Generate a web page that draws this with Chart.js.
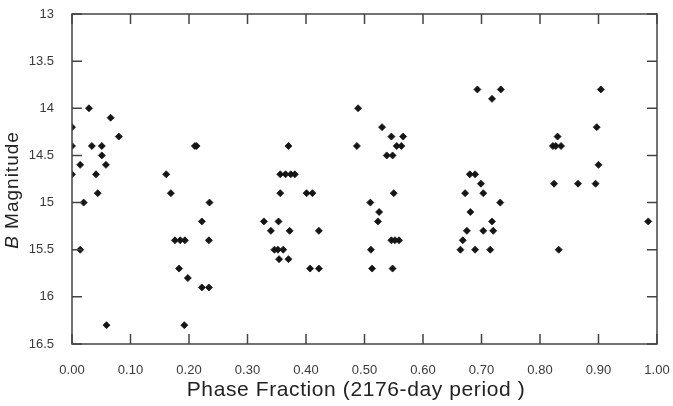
<!DOCTYPE html>
<html>
<head>
<meta charset="utf-8">
<script src="https://cdn.jsdelivr.net/npm/chart.js@4"></script>
<style>
  html, body { margin: 0; padding: 0; background: #fff; }
  #wrap { width: 673px; height: 406px; }
</style>
</head>
<body>
<div id="wrap"><canvas id="c" width="673" height="406"></canvas></div>
<script>
// phase fraction and B magnitude
const phase = [
  0.000, 0.000, 0.000, 0.029, 0.066, 0.080, 0.034, 0.051, 0.051, 0.014, 0.058, 0.041, 0.044, 0.020, 0.014, 0.059,
  0.161, 0.169, 0.210, 0.213, 0.235, 0.222, 0.176, 0.185, 0.193, 0.234, 0.183, 0.198, 0.222, 0.234, 0.192,
  0.370, 0.356, 0.365, 0.374, 0.381, 0.356, 0.401, 0.411, 0.328, 0.353, 0.340, 0.372, 0.422, 0.346, 0.352, 0.361, 0.354, 0.370, 0.407, 0.422,
  0.489, 0.487, 0.530, 0.546, 0.566, 0.555, 0.563, 0.538, 0.548, 0.550, 0.510, 0.525, 0.523, 0.546, 0.552, 0.559, 0.511, 0.513, 0.548,
  0.693, 0.718, 0.733, 0.680, 0.689, 0.699, 0.672, 0.703, 0.732, 0.681, 0.718, 0.675, 0.703, 0.720, 0.668, 0.664, 0.689, 0.715,
  0.904, 0.897, 0.830, 0.822, 0.827, 0.836, 0.900, 0.824, 0.865, 0.895, 0.832, 0.985
];
const bMag = [
  14.2, 14.4, 14.7, 14.0, 14.1, 14.3, 14.4, 14.4, 14.5, 14.6, 14.6, 14.7, 14.9, 15.0, 15.5, 16.3,
  14.7, 14.9, 14.4, 14.4, 15.0, 15.2, 15.4, 15.4, 15.4, 15.4, 15.7, 15.8, 15.9, 15.9, 16.3,
  14.4, 14.7, 14.7, 14.7, 14.7, 14.9, 14.9, 14.9, 15.2, 15.2, 15.3, 15.3, 15.3, 15.5, 15.5, 15.5, 15.6, 15.6, 15.7, 15.7,
  14.0, 14.4, 14.2, 14.3, 14.3, 14.4, 14.4, 14.5, 14.5, 14.9, 15.0, 15.1, 15.2, 15.4, 15.4, 15.4, 15.5, 15.7, 15.7,
  13.8, 13.9, 13.8, 14.7, 14.7, 14.8, 14.9, 14.9, 15.0, 15.1, 15.2, 15.3, 15.3, 15.3, 15.4, 15.5, 15.5, 15.5,
  13.8, 14.2, 14.3, 14.4, 14.4, 14.4, 14.6, 14.8, 14.8, 14.8, 15.5, 15.2
];
const xRange = [0, 1];
const yRange = [13, 16.5];
const xStep = 0.1;
const yStep = 0.5;
const xTitle = 'Phase Fraction (2176-day period )';
const yTitleItalic = 'B';
const yTitleRest = ' Magnitude';

const axisColor = '#444';
const labelColor = '#3a3a3a';
const tickFont = { family: 'Liberation Sans', size: 13 };

// frame with inward ticks on all four sides, plus the axis titles
const framePlugin = {
  id: 'frame',
  afterDatasetsDraw(chart) {
    const { ctx, chartArea: a, scales: { x, y } } = chart;
    const len = 10;
    ctx.save();
    ctx.strokeStyle = axisColor;
    ctx.lineWidth = 1.5;
    ctx.strokeRect(a.left, a.top, a.right - a.left, a.bottom - a.top);
    ctx.beginPath();
    x.ticks.forEach(t => {
      const px = x.getPixelForValue(t.value);
      ctx.moveTo(px, a.bottom); ctx.lineTo(px, a.bottom - len);
      ctx.moveTo(px, a.top); ctx.lineTo(px, a.top + len);
    });
    y.ticks.forEach(t => {
      const py = y.getPixelForValue(t.value);
      ctx.moveTo(a.left, py); ctx.lineTo(a.left + len, py);
      ctx.moveTo(a.right, py); ctx.lineTo(a.right - len, py);
    });
    ctx.stroke();

    ctx.fillStyle = '#222';
    ctx.textBaseline = 'middle';
    // x title
    ctx.font = '21px "Liberation Sans"';
    ctx.letterSpacing = '0.6px';
    ctx.textAlign = 'center';
    ctx.fillText(xTitle, 356, 390);
    // y title, rotated, italic B
    ctx.translate(13, 190);
    ctx.rotate(-Math.PI / 2);
    ctx.letterSpacing = '1px';
    ctx.font = 'italic 19px "Liberation Sans"';
    const w1 = ctx.measureText(yTitleItalic).width;
    ctx.font = '19px "Liberation Sans"';
    const w2 = ctx.measureText(yTitleRest).width;
    ctx.textAlign = 'left';
    const start = -(w1 + w2) / 2;
    ctx.font = 'italic 19px "Liberation Sans"';
    ctx.fillText(yTitleItalic, start, 0);
    ctx.font = '19px "Liberation Sans"';
    ctx.fillText(yTitleRest, start + w1, 0);
    ctx.restore();
  }
};

new Chart(document.getElementById('c'), {
  type: 'scatter',
  data: {
    datasets: [{
      label: 'B magnitude',
      data: phase.map((p, i) => ({ x: p, y: bMag[i] })),
      pointStyle: 'rectRot',
      pointRadius: 3.5,
      pointBorderWidth: 0.8,
      backgroundColor: '#151515',
      borderColor: '#151515',
      clip: 0
    }]
  },
  options: {
    responsive: false,
    animation: false,
    events: [],
    layout: { padding: { left: 0, top: 14, right: 16, bottom: 0 } },
    plugins: {
      legend: { display: false },
      tooltip: { enabled: false }
    },
    scales: {
      x: {
        type: 'linear',
        min: xRange[0],
        max: xRange[1],
        grid: { display: false },
        border: { display: false },
        ticks: {
          stepSize: xStep,
          padding: 11,
          color: labelColor,
          font: tickFont,
          maxRotation: 0,
          callback: v => v.toFixed(2)
        },
        afterFit(s) { s.height = 62; s.paddingLeft = 0; s.paddingRight = 0; }
      },
      y: {
        type: 'linear',
        reverse: true,
        min: yRange[0],
        max: yRange[1],
        grid: { display: false },
        border: { display: false },
        ticks: {
          stepSize: yStep,
          padding: 10,
          color: labelColor,
          font: tickFont,
          callback: v => String(v)
        },
        afterFit(s) { s.width = 72; s.paddingTop = 0; s.paddingBottom = 0; }
      }
    }
  },
  plugins: [framePlugin]
});
</script>
</body>
</html>
